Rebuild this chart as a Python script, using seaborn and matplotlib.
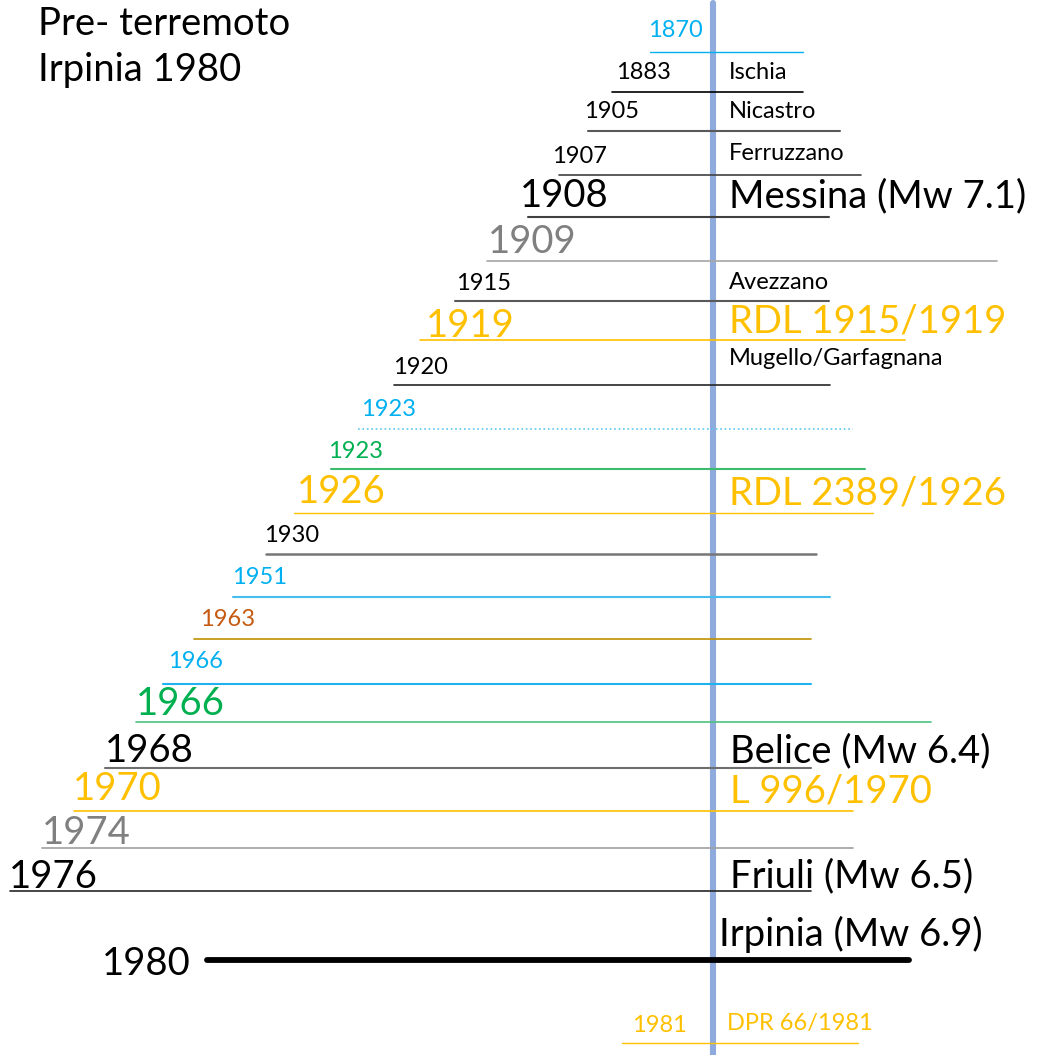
import numpy as np
import pandas as pd
import matplotlib.pyplot as plt
import seaborn as sns

# canvas is in pixel units (0..1037 x 0..1055, y downwards)
W, H = 1037, 1055
AXIS_X = 713

# left-hand year labels
years = ["1870", "1883", "1905", "1907", "1908", "1909", "1915", "1919", "1920",
         "1923", "1923", "1926", "1930", "1951", "1963", "1966", "1966", "1968",
         "1970", "1974", "1976", "1980", "1981"]
year_x = [648, 616, 584, 552, 520, 488, 456, 426, 393, 361, 328, 297, 264, 232,
          200, 168, 136, 105, 73, 42, 9, 102, 632]
year_base = [37, 79, 118, 163, 207, 253, 290, 337, 374, 416, 458, 503, 542, 584,
             626, 668, 715, 762, 800, 844, 888, 975, 1032]
year_big = [0, 0, 0, 0, 1, 1, 0, 1, 0, 0, 0, 1, 0, 0, 0, 0, 1, 1, 1, 1, 1, 1, 0]
year_color = ["#00B0F0", "black", "black", "black", "black", "#808080", "black",
              "#FFC000", "black", "#00B0F0", "#00B050", "#FFC000", "black",
              "#00B0F0", "#C55A11", "#00B0F0", "#00B050", "black", "#FFC000",
              "#808080", "black", "black", "#FFC000"]

# horizontal bars under each year
bar_y = [52, 92, 131, 175, 217, 261, 301, 340, 385, 429, 469, 513, 554, 597,
         639, 684, 722, 768, 811, 848, 891, 960, 1043]
bar_x0 = [650, 612, 588, 559, 528, 487, 455, 420, 394, 358, 331, 294, 266, 233,
          194, 163, 136, 105, 74, 42, 10, 207, 622]
bar_x1 = [803, 803, 840, 861, 829, 997, 829, 905, 830, 853, 865, 873, 816, 830,
          811, 811, 931, 811, 853, 853, 811, 909, 858]
bar_color = ["#00B0F0", "#000000", "#595959", "#404040", "#404040", "#A6A6A6",
             "#595959", "#FFC000", "#262626", "#5BC8F0", "#3DBA6E", "#FFC000",
             "#767676", "#45BDEE", "#BF9000", "#1FB2EE", "#4CC27F", "#6E6E6E",
             "#FFC000", "#A0A0A0", "#262626", "#000000", "#FFC000"]
bar_lw = [1, 1.2, 1.5, 1.2, 1.5, 1.2, 1.5, 1.2, 1.2, 1.2, 1.5, 1, 1.8, 1.5,
          1.2, 1.5, 1.2, 1.5, 1.2, 1.2, 1.2, 4.2, 1]
bar_style = ["-"] * 9 + [":"] + ["-"] * 13

# right-hand event / law labels
events = ["Ischia", "Nicastro", "Ferruzzano", "Messina (Mw 7.1)", "Avezzano",
          "RDL 1915/1919", "Mugello/Garfagnana", "RDL 2389/1926", "Belice (Mw 6.4)",
          "L 996/1970", "Friuli (Mw 6.5)", "Irpinia (Mw 6.9)", "DPR 66/1981"]
event_x = [729, 729, 729, 729, 729, 729, 729, 729, 730, 730, 730, 719, 727]
event_base = [79, 118, 160, 207, 289, 332, 365, 504, 762, 802, 887, 946, 1030]
event_big = [0, 0, 0, 1, 0, 1, 0, 1, 1, 1, 1, 1, 0]
event_color = ["black", "black", "black", "black", "black", "#FFC000", "black",
               "#FFC000", "black", "#FFC000", "black", "black", "#FFC000"]

title_lines = ["Pre- terremoto", "Irpinia 1980"]
title_base = [35, 81]

sns.set_theme(style="white")
plt.rcParams["font.family"] = ["Lato", "DejaVu Sans"]
SMALL, BIG = 17, 27.5

fig = plt.figure(figsize=(W / 100, H / 100), dpi=100)
ax = fig.add_axes([0, 0, 1, 1])

# vertical time axis
sns.lineplot(x=[AXIS_X, AXIS_X], y=[3, H], color="#8FAADC", linewidth=4.4,
             estimator=None, sort=False, ax=ax, zorder=1)

for i in range(len(years)):
    sns.lineplot(x=[bar_x0[i], bar_x1[i]], y=[bar_y[i], bar_y[i]],
                 color=bar_color[i], linewidth=bar_lw[i], linestyle=bar_style[i],
                 estimator=None, sort=False, ax=ax, zorder=2)
    ax.text(year_x[i], year_base[i], years[i], color=year_color[i],
            fontsize=BIG if year_big[i] else SMALL, ha="left", va="baseline")

for i in range(len(events)):
    ax.text(event_x[i], event_base[i], events[i], color=event_color[i],
            fontsize=BIG if event_big[i] else SMALL, ha="left", va="baseline")

for line, base in zip(title_lines, title_base):
    ax.text(38, base, line, fontsize=BIG, ha="left", va="baseline", color="black")

ax.set_xlim(0, W)
ax.set_ylim(H, 0)
ax.axis("off")
fig.savefig("out.png", dpi=100)
